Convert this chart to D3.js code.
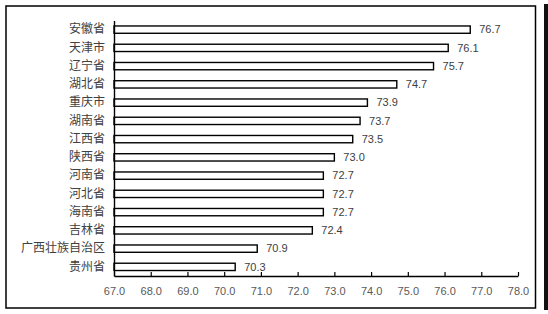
<!DOCTYPE html>
<html>
<head>
<meta charset="utf-8">
<script src="https://cdn.jsdelivr.net/npm/d3@7"></script>
<style>
  html, body { margin: 0; padding: 0; background: #fff; }
  svg { display: block; }
</style>
</head>
<body>
<svg id="chart" width="548" height="314"></svg>
<script>
const categories = ["安徽省","天津市","辽宁省","湖北省","重庆市","湖南省","江西省","陕西省","河南省","河北省","海南省","吉林省","广西壮族自治区","贵州省"];
const values = [76.7, 76.1, 75.7, 74.7, 73.9, 73.7, 73.5, 73.0, 72.7, 72.7, 72.7, 72.4, 70.9, 70.3];
const tickValues = [67,68,69,70,71,72,73,74,75,76,77,78];

const svg = d3.select("#chart");
const W = 548, H = 314;
svg.append("rect").attr("width", W).attr("height", H).attr("fill", "#fff");

// outer frame
svg.append("rect").attr("x", 6).attr("y", 6).attr("width", 529.5).attr("height", 302)
  .attr("fill", "none").attr("stroke", "#000").attr("stroke-width", 1.5);
// dark edge on right side
svg.append("rect").attr("x", 544).attr("y", 4).attr("width", 4).attr("height", 306).attr("fill", "#111");

const x = d3.scaleLinear().domain([67, 78]).range([114, 518]);
const y = d3.scaleBand().domain(categories).range([20.5, 276]).paddingInner(0.6).paddingOuter(0.3);

const numFont = "'Liberation Sans', Arial, sans-serif";
const cjkFont = "'Noto Sans CJK SC', sans-serif";

// bars
svg.append("g").selectAll("rect").data(categories).join("rect")
  .attr("x", x(67))
  .attr("y", d => y(d))
  .attr("width", (d, i) => x(values[i]) - x(67))
  .attr("height", y.bandwidth())
  .attr("fill", "#fff")
  .attr("stroke", "#000")
  .attr("stroke-width", 1.4);

// value labels
svg.append("g").selectAll("text").data(categories).join("text")
  .attr("x", (d, i) => x(values[i]) + 9)
  .attr("y", d => y(d) + y.bandwidth() / 2)
  .attr("dy", "0.35em")
  .attr("font-family", numFont)
  .attr("font-size", 11)
  .attr("fill", "#404040")
  .text((d, i) => values[i].toFixed(1));

// x axis
const xAxis = d3.axisBottom(x).tickValues(tickValues).tickSizeInner(-4).tickSizeOuter(0)
  .tickFormat(d => d.toFixed(1)).tickPadding(11);
const gx = svg.append("g").attr("transform", "translate(0,276)").call(xAxis);
gx.select(".domain").attr("stroke", "#000").attr("stroke-width", 1.4);
gx.selectAll(".tick line").attr("stroke", "#000").attr("stroke-width", 1.2);
gx.selectAll(".tick text").attr("font-family", numFont).attr("font-size", 11).attr("fill", "#595959");

// y axis
const yAxis = d3.axisLeft(y).tickSize(0).tickPadding(9);
const gy = svg.append("g").attr("transform", `translate(${x(67)},0)`).call(yAxis);
gy.select(".domain").attr("stroke", "#000").attr("stroke-width", 1.4);
gy.selectAll(".tick text").attr("font-family", cjkFont).attr("font-size", 12).attr("fill", "#404040");
</script>
</body>
</html>
